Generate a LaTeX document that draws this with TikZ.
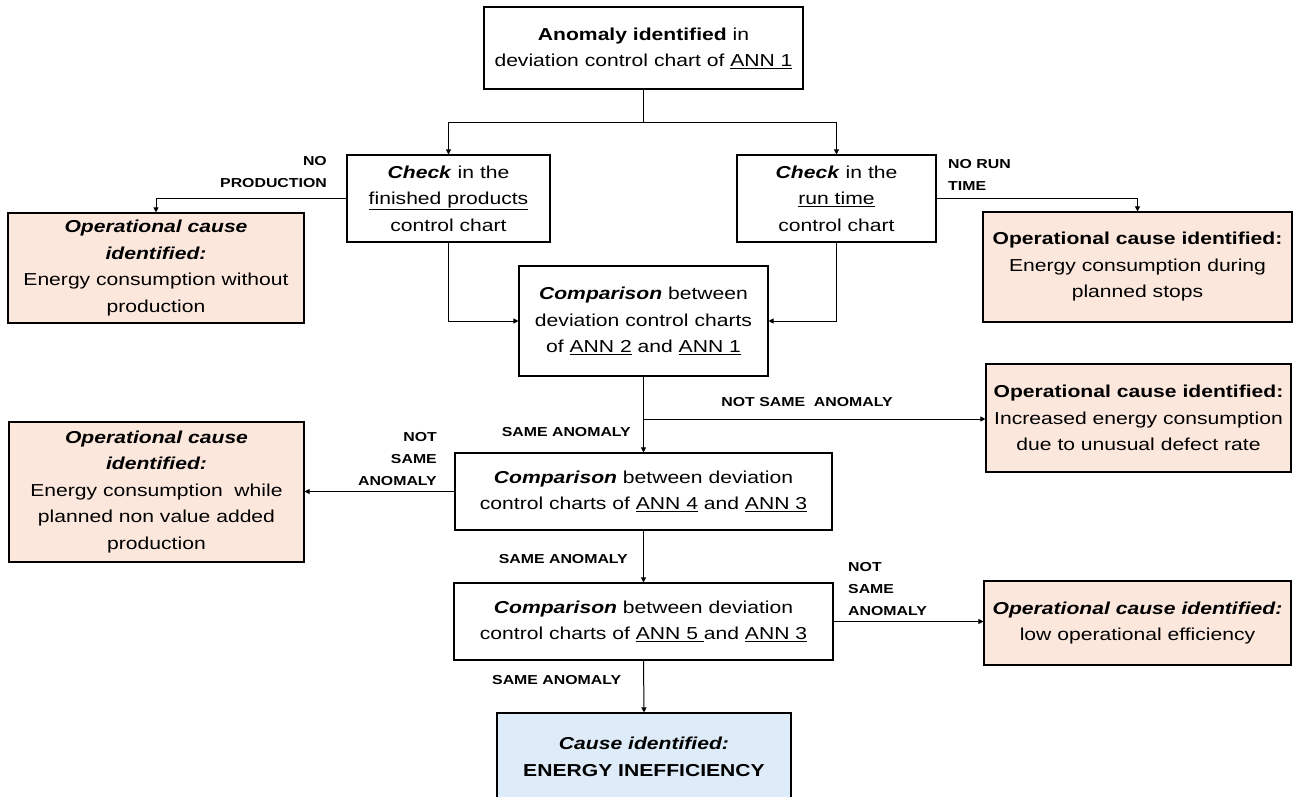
\documentclass[tikz,border=0pt]{standalone}
\usepackage{fontspec}
\setmainfont[FakeStretch=1.22]{Liberation Sans}
\usetikzlibrary{arrows.meta}
\definecolor{pinkfill}{RGB}{252,231,221}
\definecolor{bluefill}{RGB}{222,235,248}
\begin{document}
\begin{tikzpicture}[x=1pt,y=-1pt,
  box/.style={draw=black, line width=1.1pt, align=center, inner sep=0pt,
    font=\fontsize{17.3}{26.5}\selectfont},
  pinkbox/.style={box, fill=pinkfill},
  bluebox/.style={box, fill=bluefill},
  lbl/.style={font=\bfseries\fontsize{13}{22}\selectfont, inner sep=0pt},
  arr/.style={-{Triangle[length=5pt,width=5pt]}, line width=1pt},
  ln/.style={line width=1pt}]
\useasboundingbox (0,0) rectangle (1293,797);

% boxes
\node[box, minimum width=319pt, minimum height=82pt] (top) at (643.5,48)
  {\textbf{Anomaly identified} in\\deviation control chart of \underline{ANN 1}};
\node[box, minimum width=203pt, minimum height=87pt] (chk1) at (448.5,198.5)
  {\textbf{\textit{Check}} in the\\\underline{finished products}\\control chart};
\node[box, minimum width=199pt, minimum height=87pt] (chk2) at (836.5,198.5)
  {\textbf{\textit{Check}} in the\\\underline{run time}\\control chart};
\node[pinkbox, minimum width=296pt, minimum height=110pt] (p1) at (156,268)
  {\textbf{\textit{Operational cause}}\\\textbf{\textit{identified:}}\\Energy consumption without\\production};
\node[pinkbox, minimum width=309pt, minimum height=110pt] (p2) at (1137.5,267)
  {\textbf{Operational cause identified:}\\Energy consumption during\\planned stops};
\node[box, minimum width=249pt, minimum height=110pt] (c1) at (643.5,321)
  {\textbf{\textit{Comparison}} between\\deviation control charts\\of \underline{ANN 2} and \underline{ANN 1}};
\node[pinkbox, minimum width=305pt, minimum height=108pt] (p3) at (1138.5,418)
  {\textbf{Operational cause identified:}\\Increased energy consumption\\due to unusual defect rate};
\node[box, minimum width=377pt, minimum height=77pt] (c2) at (643.5,491.5)
  {\textbf{\textit{Comparison}} between deviation\\control charts of \underline{ANN 4} and \underline{ANN 3}};
\node[pinkbox, minimum width=295pt, minimum height=140pt] (p4) at (156.5,492)
  {\textbf{\textit{Operational cause}}\\\textbf{\textit{identified:}}\\Energy consumption\ \ while\\planned non value added\\production};
\node[box, minimum width=379pt, minimum height=77pt] (c3) at (643.5,621.5)
  {\textbf{\textit{Comparison}} between deviation\\control charts of \underline{ANN 5 }and \underline{ANN 3}};
\node[pinkbox, minimum width=307pt, minimum height=84pt] (p5) at (1137.5,623)
  {\textbf{\textit{Operational cause identified:}}\\low operational efficiency};
\node[bluebox, minimum width=294pt, minimum height=88pt] (fin) at (644,757)
  {\textbf{\textit{Cause identified:}}\\\textbf{ENERGY INEFFICIENCY}};

% connectors
\coordinate (j1) at (643.5,123);
\draw[ln] (top.south) -- (j1);
\draw[arr] (j1) -| (chk1.north);
\draw[arr] (j1) -| (chk2.north);
\draw[arr] (chk1.west) -| (p1.north);
\draw[arr] (chk2.east) -| (p2.north);
\draw[arr] (chk1.south) |- (c1.west);
\draw[arr] (chk2.south) |- (c1.east);
\draw[arr] (c1.south) -- (c2.north);
\coordinate (j2) at (643.5,419);
\draw[arr] (j2) -- (p3.west |- j2);
\draw[arr] (c2.west) -- (p4.east |- c2.west);
\draw[arr] (c2.south) -- (c3.north);
\draw[arr] (c3.east) -- (p5.west |- c3.east);
\draw[arr] (c3.south) -- (fin.north);

% labels
\node[lbl, anchor=east, align=right] (lNP) at (327,172) {NO\\PRODUCTION};
\node[lbl, anchor=west, align=left] (lNR) at (948,175) {NO RUN\\TIME};
\node[lbl] (lNS1) at (807,402) {NOT SAME\ \ ANOMALY};
\node[lbl, anchor=east] (lS1) at (631,432) {SAME ANOMALY};
\node[lbl, anchor=east, align=right] (lNS2) at (437,459) {NOT\\SAME\\ANOMALY};
\node[lbl, anchor=east] (lS2) at (628,559) {SAME ANOMALY};
\node[lbl, anchor=west, align=left] (lNS3) at (848,589) {NOT\\SAME\\ANOMALY};
\node[lbl, anchor=west] (lS3) at (492,680) {SAME ANOMALY};
\end{tikzpicture}
\end{document}
